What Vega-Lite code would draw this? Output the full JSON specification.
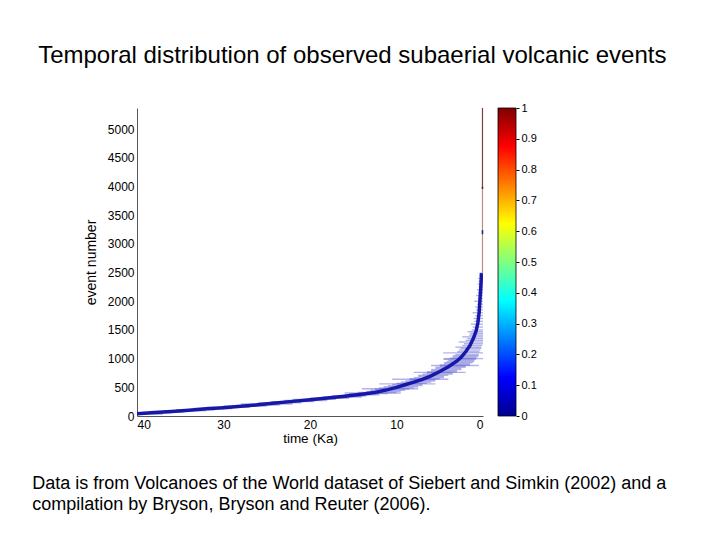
{
  "$schema": "https://vega.github.io/schema/vega-lite/v6.json",
  "background": "white",
  "padding": {"left": 32, "top": 44, "right": 5, "bottom": 5},
  "config": {"view": {"stroke": null}, "font": "Liberation Sans"},
  "title": {"text": "Temporal distribution of observed subaerial volcanic events", "font": "Liberation Sans", "fontSize": 24, "fontWeight": "normal", "color": "#000000", "anchor": "middle", "offset": 34, "dx": 3},
  "bounds": "flush",
  "spacing": 15,
  "datasets": {
    "curve": [
      {"t": 40, "n": 40}, {"t": 38, "n": 60}, {"t": 36, "n": 80}, {"t": 34, "n": 100}, {"t": 32, "n": 125},
      {"t": 30, "n": 145}, {"t": 28, "n": 170}, {"t": 26, "n": 195}, {"t": 24, "n": 225}, {"t": 22, "n": 255},
      {"t": 20, "n": 285}, {"t": 18, "n": 315}, {"t": 16, "n": 345}, {"t": 14, "n": 380}, {"t": 12.5, "n": 410},
      {"t": 11, "n": 460}, {"t": 10, "n": 500}, {"t": 9, "n": 545}, {"t": 8, "n": 590}, {"t": 7, "n": 640},
      {"t": 6, "n": 700}, {"t": 5, "n": 775}, {"t": 4, "n": 860}, {"t": 3, "n": 960}, {"t": 2.5, "n": 1030},
      {"t": 2, "n": 1120}, {"t": 1.5, "n": 1230}, {"t": 1.1, "n": 1360}, {"t": 0.8, "n": 1480}, {"t": 0.6, "n": 1620},
      {"t": 0.45, "n": 1800}, {"t": 0.35, "n": 2020}, {"t": 0.25, "n": 2250}, {"t": 0.17, "n": 2490}
    ],
    "bars": [
      {"n": 30, "lo": 37, "hi": 41}, {"n": 55, "lo": 36, "hi": 41}, {"n": 70, "lo": 34.5, "hi": 38.5}, {"n": 90, "lo": 32, "hi": 37},
      {"n": 110, "lo": 31, "hi": 35.5}, {"n": 130, "lo": 29, "hi": 33.5}, {"n": 150, "lo": 27, "hi": 32}, {"n": 175, "lo": 25, "hi": 30},
      {"n": 190, "lo": 23.5, "hi": 27}, {"n": 210, "lo": 22, "hi": 28}, {"n": 230, "lo": 21, "hi": 26}, {"n": 250, "lo": 19.5, "hi": 24.5},
      {"n": 270, "lo": 18, "hi": 23}, {"n": 290, "lo": 17, "hi": 22}, {"n": 310, "lo": 15.5, "hi": 20}, {"n": 330, "lo": 14, "hi": 18.5},
      {"n": 350, "lo": 13.5, "hi": 17.5}, {"n": 370, "lo": 12, "hi": 16}, {"n": 390, "lo": 11, "hi": 15.5}, {"n": 400, "lo": 9.5, "hi": 16},
      {"n": 410, "lo": 10, "hi": 14.5}, {"n": 430, "lo": 9.5, "hi": 13.5}, {"n": 450, "lo": 9, "hi": 13}, {"n": 470, "lo": 8.5, "hi": 12.5},
      {"n": 475, "lo": 7.5, "hi": 14}, {"n": 490, "lo": 8, "hi": 12}, {"n": 510, "lo": 7.5, "hi": 11.5}, {"n": 530, "lo": 7, "hi": 11},
      {"n": 550, "lo": 7, "hi": 10.5}, {"n": 560, "lo": 5.5, "hi": 12}, {"n": 570, "lo": 6.5, "hi": 10}, {"n": 590, "lo": 6, "hi": 9.5},
      {"n": 610, "lo": 5.5, "hi": 9}, {"n": 630, "lo": 5.5, "hi": 8.5}, {"n": 640, "lo": 4, "hi": 10.5}, {"n": 650, "lo": 5, "hi": 8.5},
      {"n": 670, "lo": 4.5, "hi": 8}, {"n": 690, "lo": 4.5, "hi": 7.5}, {"n": 710, "lo": 4, "hi": 7.5}, {"n": 730, "lo": 3.5, "hi": 7},
      {"n": 750, "lo": 3.5, "hi": 6.5}, {"n": 760, "lo": 2, "hi": 8}, {"n": 770, "lo": 3, "hi": 6.5}, {"n": 790, "lo": 3, "hi": 6},
      {"n": 810, "lo": 2.5, "hi": 6}, {"n": 830, "lo": 2.5, "hi": 5.5}, {"n": 850, "lo": 2, "hi": 5.5}, {"n": 870, "lo": 2, "hi": 5},
      {"n": 880, "lo": 0.5, "hi": 6}, {"n": 890, "lo": 1.5, "hi": 5}, {"n": 910, "lo": 1.5, "hi": 4.5}, {"n": 930, "lo": 1.2, "hi": 4.5},
      {"n": 950, "lo": 1, "hi": 4.2}, {"n": 970, "lo": 1, "hi": 4}, {"n": 990, "lo": 0.8, "hi": 4.6}, {"n": 1000, "lo": 0, "hi": 4.5},
      {"n": 1010, "lo": 0.8, "hi": 3.8}, {"n": 1030, "lo": 0.6, "hi": 3.5}, {"n": 1050, "lo": 0.5, "hi": 3.5}, {"n": 1070, "lo": 0.5, "hi": 3.2},
      {"n": 1100, "lo": 0, "hi": 4.6}, {"n": 1120, "lo": 0.4, "hi": 3}, {"n": 1150, "lo": 0.3, "hi": 2.8}, {"n": 1180, "lo": 0.2, "hi": 2.6},
      {"n": 1200, "lo": 0.2, "hi": 3.2}, {"n": 1230, "lo": 0.1, "hi": 2.4}, {"n": 1260, "lo": 0, "hi": 2.2}, {"n": 1290, "lo": 0, "hi": 2.8},
      {"n": 1320, "lo": 0, "hi": 2}, {"n": 1350, "lo": 0, "hi": 1.8}, {"n": 1380, "lo": 0, "hi": 2.4}, {"n": 1410, "lo": 0, "hi": 1.6},
      {"n": 1440, "lo": 0, "hi": 1.5}, {"n": 1470, "lo": 0, "hi": 1.8}, {"n": 1500, "lo": 0, "hi": 1.3}, {"n": 1550, "lo": 0, "hi": 1.2},
      {"n": 1600, "lo": 0, "hi": 1.4}, {"n": 1650, "lo": 0, "hi": 1.0}, {"n": 1700, "lo": 0, "hi": 1.1}, {"n": 1750, "lo": 0, "hi": 0.9},
      {"n": 1800, "lo": 0, "hi": 1.2}, {"n": 1850, "lo": 0, "hi": 0.8}, {"n": 1900, "lo": 0, "hi": 0.9}, {"n": 1950, "lo": 0, "hi": 0.7},
      {"n": 2000, "lo": 0, "hi": 1.0}, {"n": 2050, "lo": 0, "hi": 0.6}, {"n": 2100, "lo": 0, "hi": 0.8}, {"n": 2150, "lo": 0, "hi": 0.6},
      {"n": 2200, "lo": 0, "hi": 0.7}, {"n": 2250, "lo": 0, "hi": 0.5}, {"n": 2300, "lo": 0, "hi": 0.6}, {"n": 2350, "lo": 0, "hi": 0.5},
      {"n": 2400, "lo": 0, "hi": 0.55}, {"n": 2450, "lo": 0, "hi": 0.45}, {"n": 2490, "lo": 0, "hi": 0.4}
    ],
    "topline": [
      {"part": "faint", "t": 0.06, "n": 2490, "n1": 4000},
      {"part": "upper", "t": 0.06, "n": 4000, "n1": 5370},
      {"part": "blue", "t": 0.06, "n": 3170, "n1": 3240},
      {"part": "black", "t": 0.06, "n": 3960, "n1": 4000}
    ],
    "cbar": [{"lo": 0, "hi": 1}]
  },
  "hconcat": [
    {
      "width": 346,
      "height": 308,
      "title": {
        "text": ["Data is from Volcanoes of the World dataset of Siebert and Simkin (2002) and a", "compilation by Bryson, Bryson and Reuter (2006)."],
        "orient": "bottom", "anchor": "start", "dx": -52, "offset": 30,
        "font": "Liberation Sans", "fontSize": 18, "fontWeight": "normal", "lineHeight": 21, "color": "#000000"
      },
      "encoding": {
        "y": {"field": "n", "type": "quantitative", "scale": {"domain": [0, 5370]},
          "axis": {"title": "event number", "values": [0, 500, 1000, 1500, 2000, 2500, 3000, 3500, 4000, 4500, 5000], "tickCount": 11, "format": "d",
            "labelOverlap": false, "grid": false,
            "ticks": false, "labelPadding": 3, "labelFontSize": 12, "labelColor": "#000000", "titleFontSize": 14,
            "titleFontWeight": "normal", "titleColor": "#000000", "titlePadding": 9, "domainColor": "#555555",
            "labelFont": "Liberation Sans", "titleFont": "Liberation Sans"}}
      },
      "layer": [
        {
          "data": {"name": "bars"},
          "mark": {"type": "rule", "color": "#4040c8", "opacity": 0.4, "strokeWidth": 1.4, "clip": true},
          "encoding": {
            "x": {"field": "lo", "type": "quantitative", "scale": {"domain": [40, 0]},
              "axis": {"title": "time (Ka)", "values": [40, 30, 20, 10, 0], "grid": false, "ticks": false, "labelPadding": 3,
                "labelFontSize": 12, "labelColor": "#000000", "titleFontSize": 13.5, "titleFontWeight": "normal", "titleColor": "#000000",
                "titlePadding": 1, "domainColor": "#555555", "labelFont": "Liberation Sans", "titleFont": "Liberation Sans", "labelOverlap": false}},
            "x2": {"field": "hi"}
          }
        },
        {
          "data": {"name": "curve"},
          "mark": {"type": "line", "color": "#1818a8", "strokeWidth": 3.5, "clip": true},
          "encoding": {
            "x": {"field": "t", "type": "quantitative"}
          }
        },
        {
          "data": {"name": "topline"},
          "transform": [{"filter": "datum.part === 'faint'"}],
          "mark": {"type": "rule", "color": "#b89080", "strokeWidth": 1.2},
          "encoding": {
            "x": {"field": "t", "type": "quantitative"},
            "y2": {"field": "n1"}
          }
        },
        {
          "data": {"name": "topline"},
          "transform": [{"filter": "datum.part === 'upper'"}],
          "mark": {"type": "rule", "color": "#7a4040", "strokeWidth": 1.2},
          "encoding": {
            "x": {"field": "t", "type": "quantitative"},
            "y2": {"field": "n1"}
          }
        },
        {
          "data": {"name": "topline"},
          "transform": [{"filter": "datum.part === 'blue'"}],
          "mark": {"type": "rule", "color": "#20208a", "strokeWidth": 1.5},
          "encoding": {
            "x": {"field": "t", "type": "quantitative"},
            "y2": {"field": "n1"}
          }
        },
        {
          "data": {"name": "topline"},
          "transform": [{"filter": "datum.part === 'black'"}],
          "mark": {"type": "rule", "color": "#202020", "strokeWidth": 1.5},
          "encoding": {
            "x": {"field": "t", "type": "quantitative"},
            "y2": {"field": "n1"}
          }
        }
      ]
    },
    {
      "width": 18,
      "height": 308,
      "data": {"name": "cbar"},
      "mark": {
        "type": "rect",
        "stroke": "#000000",
        "strokeWidth": 0.8,
        "color": {
          "gradient": "linear", "x1": 0, "y1": 1, "x2": 0, "y2": 0,
          "stops": [
            {"offset": 0, "color": "#00008f"},
            {"offset": 0.125, "color": "#0000ff"},
            {"offset": 0.375, "color": "#00ffff"},
            {"offset": 0.625, "color": "#ffff00"},
            {"offset": 0.875, "color": "#ff0000"},
            {"offset": 1, "color": "#800000"}
          ]
        }
      },
      "encoding": {
        "x": {"datum": 0, "type": "quantitative", "scale": {"domain": [0, 1]}, "axis": null},
        "x2": {"datum": 1},
        "y": {"field": "lo", "type": "quantitative", "scale": {"domain": [0, 1]},
          "axis": {"orient": "right", "title": null, "values": [0, 0.1, 0.2, 0.3, 0.4, 0.5, 0.6, 0.7, 0.8, 0.9, 1], "format": "~g",
            "labelOverlap": false, "grid": false, "domain": false, "tickSize": 3, "tickColor": "#000000", "labelPadding": 2, "labelFontSize": 11,
            "labelColor": "#000000", "labelFont": "Liberation Sans"}},
        "y2": {"field": "hi"}
      }
    }
  ]
}
